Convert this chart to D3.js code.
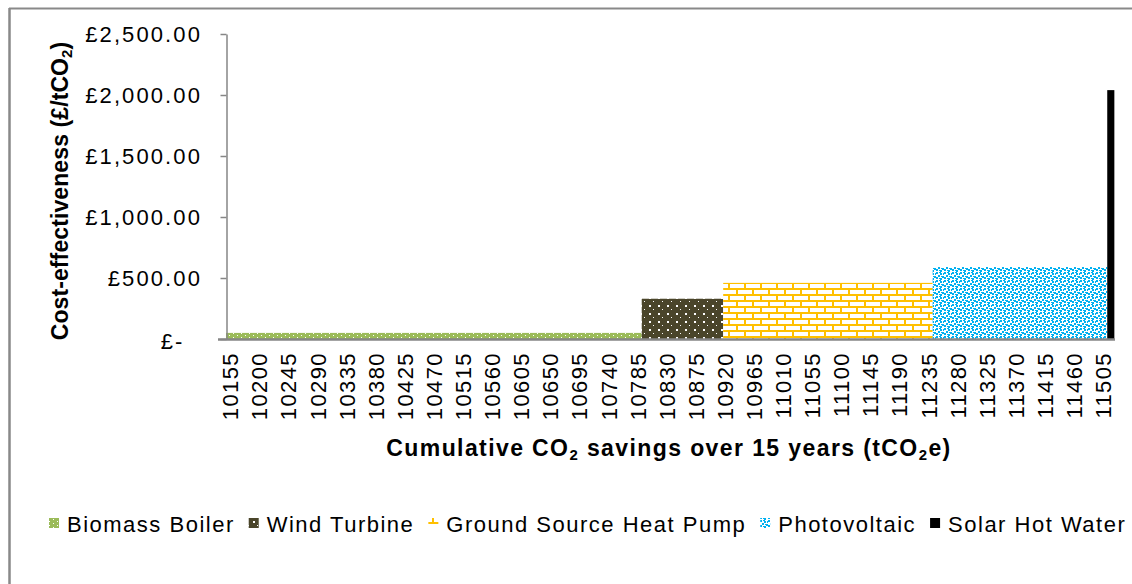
<!DOCTYPE html>
<html><head><meta charset="utf-8">
<script src="https://cdn.jsdelivr.net/npm/d3@7"></script>
<style>body{margin:0;background:#fff} text{font-family:"Liberation Sans",Arial,sans-serif}</style>
</head><body><svg id="c" width="1132" height="584"></svg>
<script>
// ---- data ----
const technologies = ["Biomass Boiler", "Wind Turbine", "Ground Source Heat Pump", "Photovoltaic", "Solar Hot Water"];
const savingsStart = [10149, 10792, 10918, 11242, 11512];
const savingsEnd = [10792, 10918, 11242, 11512, 11523];
const costEffectiveness = [50, 330, 460, 590, 2040];
const xTickLabels = [10155, 10200, 10245, 10290, 10335, 10380, 10425, 10470, 10515, 10560, 10605, 10650, 10695, 10740, 10785, 10830, 10875, 10920, 10965, 11010, 11055, 11100, 11145, 11190, 11235, 11280, 11325, 11370, 11415, 11460, 11505];
const yTickValues = [0, 500, 1000, 1500, 2000, 2500];
const yTickLabels = ["£-", "£500.00", "£1,000.00", "£1,500.00", "£2,000.00", "£2,500.00"];
const fills = ["url(#pBio)", "url(#pWind)", "url(#pBrick)", "url(#pPV)", "#000000"];

const svg = d3.select("#c");
svg.append("rect").attr("width", 1132).attr("height", 584).attr("fill", "#fff");

// ---- patterns ----
const defs = svg.append("defs");
function pat(id, w, h, bg, rects, color) {
  const p = defs.append("pattern").attr("id", id).attr("patternUnits", "userSpaceOnUse")
    .attr("width", w).attr("height", h);
  p.append("rect").attr("width", w).attr("height", h).attr("fill", bg);
  rects.forEach(r => p.append("rect").attr("x", r[0]).attr("y", r[1]).attr("width", r[2]).attr("height", r[3]).attr("fill", color));
}
pat("pBio", 8, 4, "#9BBB59", [[1, 1, 1, 1], [5, 3, 1, 1]], "#ffffff");
pat("pWind", 9, 8, "#4A452A", [[1, 1, 2, 2], [5, 5, 1, 1]], "#ffffff");
pat("pBrick", 16, 12, "#ffffff", [[0, 0, 16, 2], [0, 6, 16, 2], [0, 0, 2, 6], [8, 6, 2, 6]], "#FFC000");
pat("pPV", 8, 8, "#ffffff", [[0, 0, 2, 2], [3, 0, 2, 1], [4, 1, 2, 2], [2, 3, 2, 2], [6, 4, 2, 2], [0, 5, 2, 2], [4, 6, 2, 2], [7, 1, 1, 2], [3, 6, 1, 1], [5, 4, 1, 1]], "#00B0F0");

// ---- frame ----
svg.append("line").attr("x1", 9).attr("x2", 1132).attr("y1", 8.5).attr("y2", 8.5).attr("stroke", "#898989").attr("stroke-width", 2);
svg.append("line").attr("x1", 9.5).attr("x2", 9.5).attr("y1", 8).attr("y2", 584).attr("stroke", "#898989").attr("stroke-width", 2.5);

// ---- scales ----
const x = d3.scaleLinear().domain([10149, 11524]).range([226, 1115]);
const y = d3.scaleLinear().domain([0, 2500]).range([339, 34]);

// ---- bars ----
svg.append("g").selectAll("rect").data(technologies).join("rect")
  .attr("x", (d, i) => x(savingsStart[i]))
  .attr("width", (d, i) => x(savingsEnd[i]) - x(savingsStart[i]))
  .attr("y", (d, i) => y(costEffectiveness[i]))
  .attr("height", (d, i) => y(0) - y(costEffectiveness[i]))
  .attr("fill", (d, i) => fills[i]);

// ---- y axis ----
const ya = svg.append("g").attr("transform", "translate(226.5,0)")
  .call(d3.axisLeft(y).tickValues(yTickValues).tickFormat((d, i) => yTickLabels[i]).tickSize(6).tickSizeOuter(0).tickPadding(18.5));
ya.select(".domain").attr("stroke", "#868686").attr("stroke-width", 1.5);
ya.selectAll(".tick line").attr("stroke", "#868686").attr("stroke-width", 1.5);
ya.selectAll(".tick text").attr("font-size", 22).attr("letter-spacing", 2.1).attr("fill", "#000")
  .style("font-family", '"Liberation Sans",Arial,sans-serif');
ya.selectAll(".tick text").filter(d => d === 0).attr("x", -42).attr("dy", "0.45em");

// ---- x axis ----
svg.append("line").attr("x1", 218).attr("x2", 1115).attr("y1", 339.5).attr("y2", 339.5).attr("stroke", "#868686").attr("stroke-width", 2.5);
const xa = svg.append("g").attr("transform", "translate(0,339)")
  .call(d3.axisBottom(x).tickValues(xTickLabels).tickFormat(d => String(d)).tickSize(0));
xa.select(".domain").remove();
xa.selectAll(".tick text").attr("font-size", 22).attr("letter-spacing", 1.4).attr("fill", "#000")
  .style("font-family", '"Liberation Sans",Arial,sans-serif')
  .attr("transform", "rotate(-90)").attr("text-anchor", "end")
  .attr("x", -13).attr("y", 0).attr("dy", "0.36em");

// ---- axis titles ----
function sub(t, parts) {
  parts.forEach(p => {
    const s = t.append("tspan").text(p[0]);
    if (p[1]) s.attr("font-size", "0.65em").attr("dy", "0.25em");
    if (p[2]) s.attr("dy", "-0.16em");
  });
}
const xt = svg.append("text").attr("x", 669).attr("y", 456).attr("text-anchor", "middle")
  .attr("font-size", 23).attr("font-weight", "bold").attr("letter-spacing", 1.4);
sub(xt, [["Cumulative CO"], ["2", true], ["\u00a0savings over 15 years (tCO", false, true], ["2", true], ["e)", false, true]]);

const yt = svg.append("text").attr("transform", "translate(68,191) rotate(-90)").attr("text-anchor", "middle")
  .attr("font-size", 23).attr("font-weight", "bold").attr("letter-spacing", 0.1);
sub(yt, [["Cost-effectiveness (£/tCO"], ["2", true], [")", false, true]]);

// ---- legend ----
let lx = 49;
technologies.forEach((t, i) => {
  svg.append("rect").attr("x", lx).attr("y", 518).attr("width", 10).attr("height", 10).attr("fill", fills[i]);
  const tx = svg.append("text").attr("x", lx + 18).attr("y", 532).attr("font-size", 22).attr("letter-spacing", 1.5).attr("fill", "#000").text(t);
  lx = lx + 18 + tx.node().getComputedTextLength() + 14;
});
</script></body></html>
